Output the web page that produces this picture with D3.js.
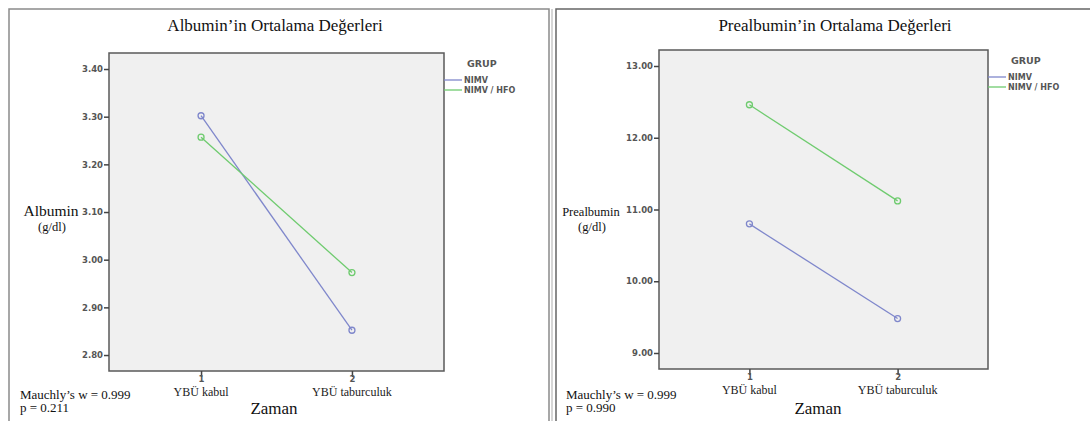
<!DOCTYPE html>
<meta charset="utf-8">
<style>
  body { margin: 0; background: #fff; }
</style>
<svg width="1090" height="421"></svg>
<script src="https://d3js.org/d3.v7.min.js"></script>
<script>
// data
const zaman = ["1", "2"]
const zamanLabels = ["YBÜ kabul", "YBÜ taburculuk"]
const gruplar = ["NIMV", "NIMV / HFO"]
const renkler = ["#7f87cb", "#6fcb6f"]

const albuminNIMV = [3.302, 2.852]
const albuminHFO = [3.257, 2.973]
const albuminTicks = [2.80, 2.90, 3.00, 3.10, 3.20, 3.30, 3.40]

const prealbNIMV = [10.80, 9.48]
const prealbHFO = [12.46, 11.12]
const prealbTicks = [9, 10, 11, 12, 13]

const svg = d3.select('svg')
const serif = '"Liberation Serif", "Times New Roman", serif'
const sans = '"DejaVu Sans", "Open Sans", sans-serif'

function drawPanel(p) {
  const g = svg.append('g')

  // outer frame
  g.append('rect')
    .attr('x', p.frame[0]).attr('y', p.frame[1])
    .attr('width', p.frame[2]).attr('height', p.frame[3])
    .attr('fill', 'none').attr('stroke', p.frameColor).attr('stroke-width', 1.5)

  const x = d3.scalePoint().domain(zaman).range([p.left, p.right]).padding(0.61)
  const y = d3.scaleLinear().domain(p.domain).range([p.bottom, p.top])

  g.append('rect')
    .attr('x', p.left).attr('y', p.top)
    .attr('width', p.right - p.left).attr('height', p.bottom - p.top)
    .attr('fill', '#f0f0f0').attr('stroke', '#5a5a5a').attr('stroke-width', 1.5)

  // y axis
  const ya = g.append('g').attr('transform', `translate(${p.left},0)`)
    .call(d3.axisLeft(y).tickValues(p.ticks).tickFormat(d3.format('.2f')).tickSize(5).tickPadding(1))
  ya.select('.domain').remove()
  ya.selectAll('line').attr('stroke', '#444').attr('stroke-width', 1.5)
  ya.selectAll('text').attr('font-family', sans).attr('font-size', 8.5)
    .attr('font-weight', 'bold').attr('fill', '#555')

  // x axis
  const xa = g.append('g').attr('transform', `translate(0,${p.bottom})`)
    .call(d3.axisBottom(x).tickSize(6).tickPadding(-1))
  xa.select('.domain').remove()
  xa.selectAll('line').attr('stroke', '#444').attr('stroke-width', 1.5)
  xa.selectAll('text').attr('font-family', sans).attr('font-size', 8.5)
    .attr('font-weight', 'bold').attr('fill', '#555')

  g.selectAll('.cat').data(zamanLabels).enter().append('text')
    .attr('x', (d, i) => x(zaman[i]))
    .attr('y', p.bottom + 25)
    .attr('text-anchor', 'middle')
    .attr('font-family', serif).attr('font-size', 12).attr('fill', '#222')
    .text(d => d)

  // series
  const line = d3.line().x((d, i) => x(zaman[i])).y(d => y(d))
  p.series.forEach((s, k) => {
    g.append('path').datum(s).attr('d', line)
      .attr('fill', 'none').attr('stroke', renkler[k]).attr('stroke-width', 1.3)
    g.selectAll('.pt' + k).data(s).enter().append('circle')
      .attr('cx', (d, i) => x(zaman[i])).attr('cy', d => y(d)).attr('r', 3)
      .attr('fill', 'none').attr('stroke', renkler[k]).attr('stroke-width', 1.3)
  })

  // title
  g.append('text').attr('x', p.titleX).attr('y', 31)
    .attr('text-anchor', 'middle').attr('font-family', serif).attr('font-size', 17)
    .attr('fill', '#111').text(p.title)

  // y label
  g.append('text').attr('x', p.ylabX).attr('y', 216)
    .attr('text-anchor', 'middle').attr('font-family', serif).attr('font-size', p.ylabSize)
    .attr('fill', '#111').text(p.ylab)
  g.append('text').attr('x', p.ylabX + 1).attr('y', 231)
    .attr('text-anchor', 'middle').attr('font-family', serif).attr('font-size', 12.5)
    .attr('fill', '#111').text('(g/dl)')

  // x title
  g.append('text').attr('x', p.xlabX).attr('y', 414)
    .attr('text-anchor', 'middle').attr('font-family', serif).attr('font-size', 17)
    .attr('fill', '#111').text('Zaman')

  // Mauchly
  g.append('text').attr('x', p.noteX).attr('y', 399)
    .attr('font-family', serif).attr('font-size', 13).attr('fill', '#111')
    .text('Mauchly’s w = 0.999')
  g.append('text').attr('x', p.noteX).attr('y', 412)
    .attr('font-family', serif).attr('font-size', 13).attr('fill', '#111')
    .text('p = ' + p.p)

  // legend
  const lg = g.append('g').attr('transform', `translate(${p.right},${p.legY})`)
  lg.append('text').attr('x', 23).attr('y', 0)
    .attr('font-family', sans).attr('font-size', 9.5).attr('font-weight', 'bold')
    .attr('fill', '#555').text('GRUP')
  gruplar.forEach((n, k) => {
    lg.append('line').attr('x1', 0).attr('x2', 18)
      .attr('y1', 13 + k * 10).attr('y2', 13 + k * 10)
      .attr('stroke', renkler[k]).attr('stroke-width', 1.3)
    lg.append('text').attr('x', 20).attr('y', 16 + k * 10)
      .attr('font-family', sans).attr('font-size', 8).attr('font-weight', 'bold')
      .attr('fill', '#555').text(n)
  })
}

drawPanel({
  frame: [9, 9, 540, 430], frameColor: '#8a8a8a',
  left: 109, right: 444, top: 53, bottom: 371,
  domain: [2.7665, 3.4336], ticks: albuminTicks,
  series: [albuminNIMV, albuminHFO],
  title: 'Albumin’in Ortalama Değerleri', titleX: 275,
  ylab: 'Albumin', ylabX: 51, ylabSize: 15.5,
  xlabX: 274, noteX: 20, p: '0.211', legY: 67
})

drawPanel({
  frame: [556, 9, 560, 430], frameColor: '#666',
  left: 659, right: 988, top: 50, bottom: 369,
  domain: [8.777, 13.223], ticks: prealbTicks,
  series: [prealbNIMV, prealbHFO],
  title: 'Prealbumin’in Ortalama Değerleri', titleX: 835,
  ylab: 'Prealbumin', ylabX: 591, ylabSize: 12.5,
  xlabX: 818, noteX: 566, p: '0.990', legY: 64
})

// light seam between the two panels
svg.append('line').attr('x1', 552).attr('x2', 552).attr('y1', 9).attr('y2', 421)
  .attr('stroke', '#c8c8c8').attr('stroke-width', 1.5)
</script>
